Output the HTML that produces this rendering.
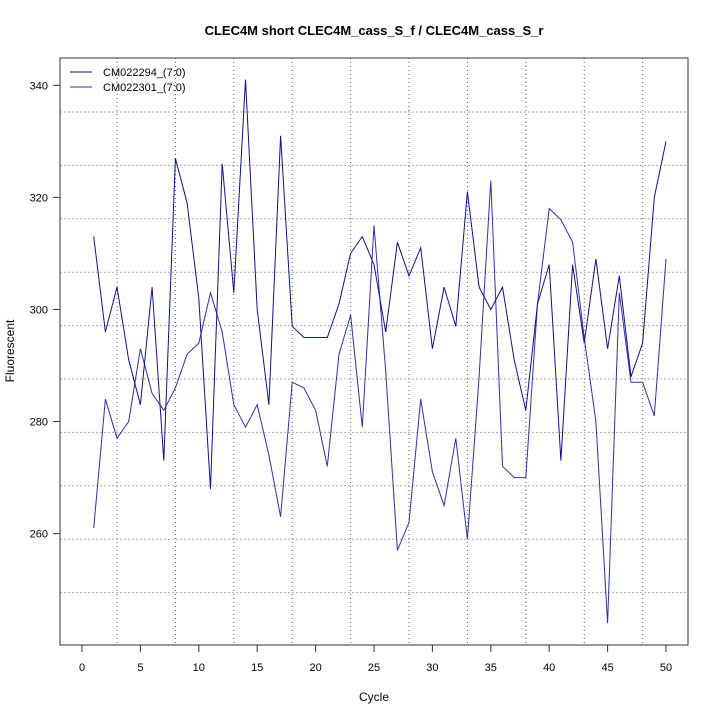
<!DOCTYPE html>
<html><head><meta charset="utf-8"><style>
html,body{margin:0;padding:0;background:#fff;}
svg{display:block;font-family:"Liberation Sans",Arial,sans-serif;}
</style></head><body>
<svg id="s" width="720" height="720" viewBox="0 0 720 720" xmlns="http://www.w3.org/2000/svg">
<rect width="720" height="720" fill="#fff"/>
<text x="374" y="35" text-anchor="middle" font-size="13" font-weight="bold">CLEC4M short CLEC4M_cass_S_f / CLEC4M_cass_S_r</text>
<g id="grid"></g>
<g id="series"></g>
<rect x="60" y="58" width="628" height="587" fill="none" stroke="#333" stroke-width="1"/>
<g id="axes" font-size="11" fill="#000"></g>
<text x="374" y="701" text-anchor="middle" font-size="12">Cycle</text>
<text transform="translate(14,351) rotate(-90)" text-anchor="middle" font-size="12">Fluorescent</text>
<line x1="70" y1="72" x2="92" y2="72" stroke="#10108a" stroke-width="1"/>
<line x1="70" y1="87" x2="92" y2="87" stroke="#3030a8" stroke-width="1"/>
<text x="103" y="76" font-size="11">CM022294_(7:0)</text>
<text x="103" y="91" font-size="11">CM022301_(7:0)</text>
</svg>
<script>
var NS="http://www.w3.org/2000/svg";
function X(c){return 82+c*11.68;}
function Y(v){return 58+(344.88-v)*5.603;}
function el(t,a,p){var e=document.createElementNS(NS,t);for(var k in a)e.setAttribute(k,a[k]);p.appendChild(e);return e;}
var g=document.getElementById("grid");
for(var c=3;c<=48;c+=5){el("line",{x1:X(c),y1:58,x2:X(c),y2:645,stroke:"#555","stroke-dasharray":"1,3","stroke-width":1},g);}
for(var i=0;i<10;i++){var y=112+i*53.4;el("line",{x1:60,y1:y,x2:688,y2:y,stroke:"#aaa","stroke-dasharray":"2,2","stroke-width":1},g);}
var A=[313,296,304,291,283,304,273,327,319,302,268,326,303,341,300,283,331,297,295,295,295,301,310,313,308,296,312,306,311,293,304,297,321,304,300,304,291,282,301,308,273,308,294,309,293,306,288,294,320,330];
var B=[261,284,277,280,293,285,282,286,292,294,303,296,283,279,283,274,263,287,286,282,272,292,299,279,315,289,257,262,284,271,265,277,259,288,323,272,270,270,301,318,316,312,295,280,244,303,287,287,281,309];
var s=document.getElementById("series");
function pl(d,col){var p=d.map(function(v,i){return X(i+1).toFixed(1)+","+Y(v).toFixed(1)}).join(" ");el("polyline",{points:p,fill:"none",stroke:col,"stroke-width":1},s);}
pl(B,"#3030a8");pl(A,"#10108a");
var ax=document.getElementById("axes");
for(var c=0;c<=50;c+=5){el("line",{x1:X(c),y1:645,x2:X(c),y2:652,stroke:"#333"},ax);var t=el("text",{x:X(c),y:671,"text-anchor":"middle"},ax);t.textContent=c;}
for(var v=260;v<=340;v+=20){el("line",{x1:53,y1:Y(v),x2:60,y2:Y(v),stroke:"#333"},ax);var t=el("text",{x:48,y:Y(v)+4,"text-anchor":"end"},ax);t.textContent=v;}
</script>
</body></html>
